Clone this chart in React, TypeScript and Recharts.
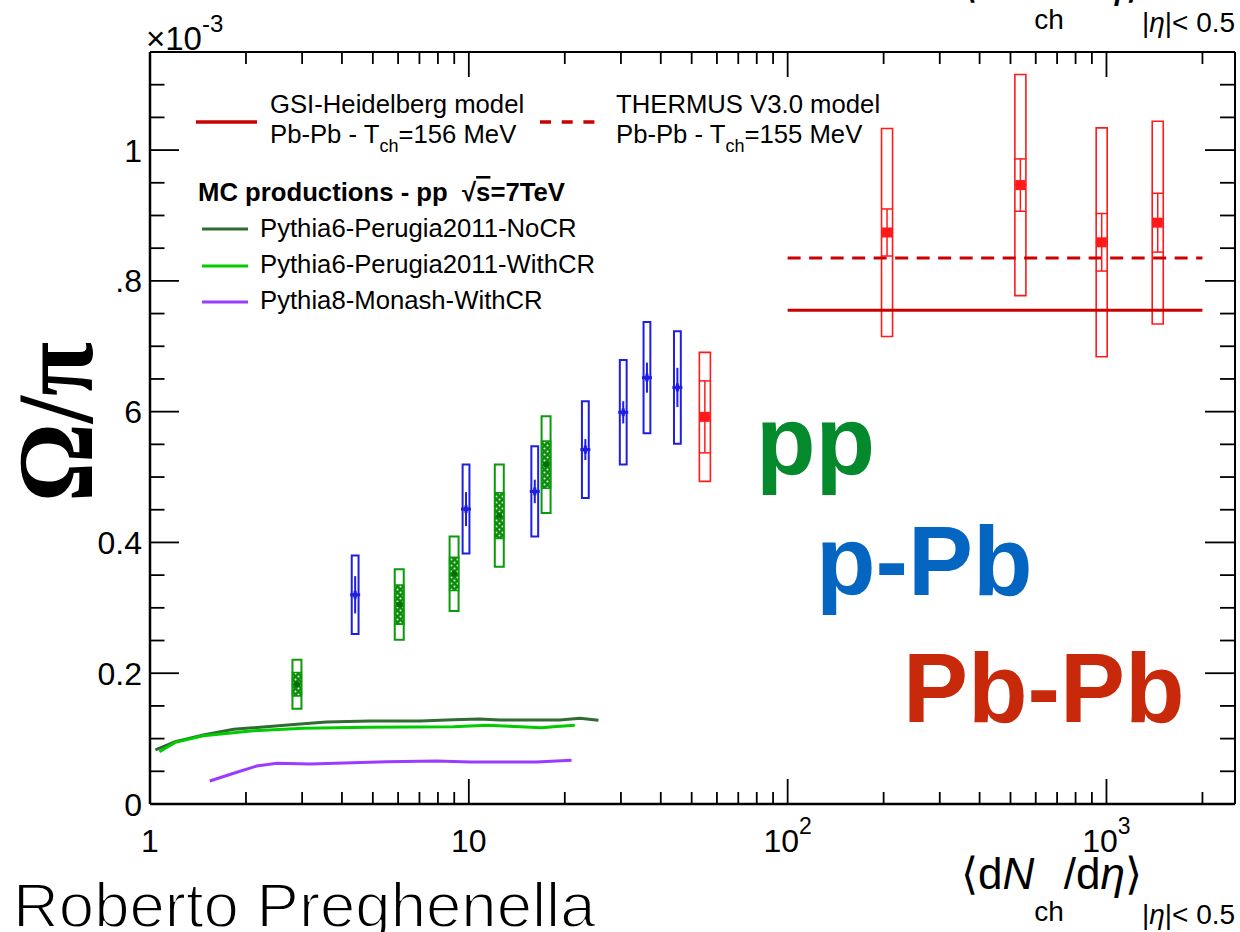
import React from 'react';
import { ComposedChart, XAxis, YAxis, Scatter, Line, ReferenceArea, ErrorBar } from 'recharts';

const W = 1240;
const H = 932;
const FONT = '"Liberation Sans", Arial, Helvetica, sans-serif';
const SERIF = '"Liberation Serif", "Times New Roman", serif';

// ---- axis ticks ----
const xMajorTicks = [1, 10, 100, 1000];
const xMajorBase = ['1', '10', '10', '10'];
const xMajorExp = ['', '', '2', '3'];
const xMinorMultipliers = [2, 3, 4, 5, 6, 7, 8, 9];
const X_MAX_TICK = 2000;
const xTicks: number[] = [];
xMajorTicks.forEach((d) => {
  xTicks.push(d);
  xMinorMultipliers.forEach((m) => {
    if (d * m <= X_MAX_TICK) xTicks.push(d * m);
  });
});

const yMajorTicks = [0, 0.2, 0.4, 0.6, 0.8, 1];
const yMajorLabels = ['0', '0.2', '0.4', '0.6', '0.8', '1'];
const yTicks: number[] = Array.from({ length: 24 }, (_, i) => Math.round(i * 5) / 100);

// ---- pp, sqrt(s) = 7 TeV ----
const ppMult = [2.89, 6.05, 8.99, 12.46, 17.47];
const ppRatio = [0.183, 0.305, 0.352, 0.441, 0.519];
const ppSysTotal = [0.0375, 0.054, 0.057, 0.078, 0.074];
const ppSysUncorr = [0.018, 0.03, 0.0255, 0.035, 0.036];

// ---- p-Pb ----
const pPbMult = [4.4, 9.8, 16.1, 23.2, 30.5, 36.2, 45.1];
const pPbRatio = [0.32, 0.451, 0.478, 0.542, 0.599, 0.652, 0.637];
const pPbStat = [0.0285, 0.026, 0.018, 0.016, 0.017, 0.023, 0.03];
const pPbSys = [0.06, 0.068, 0.069, 0.074, 0.08, 0.085, 0.086];

// ---- Pb-Pb ----
const PbPbMult = [55, 205, 537, 966, 1448];
const PbPbRatio = [0.592, 0.874, 0.9465, 0.859, 0.889];
const PbPbStat = [0.055, 0.036, 0.04, 0.044, 0.045];
const PbPbSys = [0.0986, 0.159, 0.169, 0.175, 0.155];

// ---- MC productions, pp 7 TeV ----
const noCRMult = [1.04, 1.2, 1.47, 1.83, 2.96, 3.58, 4.9, 7.03, 8.94, 10.8, 12.5, 19.3, 22.3, 25.5];
const noCRRatio = [0.0826, 0.0953, 0.1055, 0.1142, 0.1223, 0.1254, 0.127, 0.127, 0.1289, 0.13, 0.1284, 0.1284, 0.131, 0.128];
const withCRMult = [1.07, 1.2, 1.47, 2.11, 3.03, 4.9, 8.94, 11.4, 14.5, 16.9, 18.4, 21.5];
const withCRRatio = [0.08, 0.0943, 0.1045, 0.112, 0.1157, 0.1173, 0.1183, 0.1203, 0.1183, 0.1167, 0.118, 0.1203];
const monashMult = [1.54, 1.83, 2.16, 2.5, 3.18, 5.53, 7.93, 10.1, 16.3, 21.0];
const monashRatio = [0.0352, 0.047, 0.0581, 0.0622, 0.0612, 0.0647, 0.0657, 0.0642, 0.0642, 0.0668];

// ---- statistical hadronisation models (Pb-Pb) ----
const modelMult = [100, 2000];
const gsiRatio = 0.755;
const thermusRatio = 0.835;

// box half-widths, in decades of the log axis
const BOX_HW_RED = 0.0173;
const BOX_HW_BLUE = 0.0107;
const BOX_HW_GREEN = 0.0141;

const pts = (xs: number[], ys: number[], err?: number[]) =>
  xs.map((x, i) => ({ x, y: ys[i], err: err ? err[i] : 0 }));

const ppPts = pts(ppMult, ppRatio);
const pPbPts = pts(pPbMult, pPbRatio, pPbStat);
const PbPbPts = pts(PbPbMult, PbPbRatio, PbPbStat);
const noCR = pts(noCRMult, noCRRatio);
const withCR = pts(withCRMult, withCRRatio);
const monash = pts(monashMult, monashRatio);
const gsi = modelMult.map((x) => ({ x, y: gsiRatio }));
const thermus = modelMult.map((x) => ({ x, y: thermusRatio }));

const RED = '#ff1a1a';
const BLUE = '#1f1fe0';
const GREEN = '#0b9a0b';

const findIdx = (arr: number[], v: number) => arr.findIndex((t) => Math.abs(t - v) < 1e-9);

const BottomTick = (props: any) => {
  const { x, y, payload } = props;
  const i = findIdx(xMajorTicks, payload.value);
  const major = i >= 0;
  return (
    <g>
      <line x1={x} x2={x} y1={y} y2={y - (major ? 25 : 12)} stroke="#000" strokeWidth={1.8} />
      {major && (
        <text x={x} y={y + 48} textAnchor="middle" fontFamily={FONT} fontSize={32} fill="#000">
          {xMajorBase[i]}
          {xMajorExp[i] ? (
            <tspan dy={-18} fontSize={23}>
              {xMajorExp[i]}
            </tspan>
          ) : null}
        </text>
      )}
    </g>
  );
};

const TopTick = (props: any) => {
  const { x, y, payload } = props;
  const major = findIdx(xMajorTicks, payload.value) >= 0;
  return <line x1={x} x2={x} y1={y} y2={y + (major ? 25 : 12)} stroke="#000" strokeWidth={1.8} />;
};

const LeftTick = (props: any) => {
  const { x, y, payload } = props;
  const i = findIdx(yMajorTicks, payload.value);
  const major = i >= 0;
  return (
    <g>
      <line x1={x} x2={x + (major ? 29 : 14.5)} y1={y} y2={y} stroke="#000" strokeWidth={1.8} />
      {major && (
        <text x={x - 8} y={y + 11.5} textAnchor="end" fontFamily={FONT} fontSize={32} fill="#000">
          {yMajorLabels[i]}
        </text>
      )}
    </g>
  );
};

const RightTick = (props: any) => {
  const { x, y, payload } = props;
  const major = findIdx(yMajorTicks, payload.value) >= 0;
  return <line x1={x} x2={x - (major ? 30 : 15)} y1={y} y2={y} stroke="#000" strokeWidth={1.8} />;
};

const RedMarker = (p: any) => (
  <g>
    <line x1={p.cx - 6} x2={p.cx + 6} y1={p.cy} y2={p.cy} stroke={RED} strokeWidth={1.5} />
    <rect x={p.cx - 5} y={p.cy - 5} width={10} height={10} fill={RED} />
  </g>
);

const BlueMarker = (p: any) => (
  <g>
    <line x1={p.cx - 5} x2={p.cx + 5} y1={p.cy} y2={p.cy} stroke={BLUE} strokeWidth={3} />
    <line x1={p.cx} x2={p.cx} y1={p.cy - 4} y2={p.cy + 4} stroke={BLUE} strokeWidth={3} />
    <circle cx={p.cx} cy={p.cy} r={2.5} fill={BLUE} />
  </g>
);

const GreenMarker = (p: any) => <circle cx={p.cx} cy={p.cy} r={3} fill="#067006" />;

// <dN_ch/deta>_{|eta|<0.5}
const AxisTitle = ({ baseline }: { baseline: number }) => (
  <text x={961} y={baseline} fontFamily={FONT} fontSize={44} fill="#000">
    ⟨d<tspan fontStyle="italic">N</tspan>
    <tspan fontSize={28} dy={32}>
      ch
    </tspan>
    <tspan dy={-32}>/d</tspan>
    <tspan fontStyle="italic">η</tspan>⟩
    <tspan fontSize={28} dy={35}>
      |
    </tspan>
    <tspan fontSize={28} fontStyle="italic">
      η
    </tspan>
    <tspan fontSize={28}>|&lt; 0.5</tspan>
  </text>
);

const axisProps = { xAxisId: 'b', yAxisId: 'l' };
const LEG = 25.7;

export default function App() {
  return (
    <div style={{ position: 'absolute', left: 0, top: 0, width: W, height: H, background: '#fff', overflow: 'hidden' }}>
      <svg width={0} height={0} style={{ position: 'absolute' }}>
        <defs>
          <pattern id="ppHatch" width={6} height={6} patternUnits="userSpaceOnUse">
            <rect width={6} height={6} fill="#0a8c0a" />
            <circle cx={1.5} cy={1.5} r={1} fill="#e8f5e8" />
            <circle cx={4.5} cy={4.5} r={1} fill="#e8f5e8" />
          </pattern>
        </defs>
      </svg>

      <ComposedChart width={W} height={H} margin={{ top: 51, right: 4, bottom: 68, left: 90 }}>
        <XAxis
          xAxisId="b"
          dataKey="x"
          type="number"
          scale="log"
          domain={[1, 2530]}
          allowDataOverflow
          ticks={xTicks}
          interval={0}
          tickSize={0}
          tickMargin={0}
          tickLine={false}
          axisLine={{ stroke: '#000', strokeWidth: 2.5 }}
          tick={<BottomTick />}
          height={60}
          orientation="bottom"
        />
        <XAxis
          xAxisId="t"
          dataKey="x"
          type="number"
          scale="log"
          domain={[1, 2530]}
          allowDataOverflow
          ticks={xTicks}
          interval={0}
          tickSize={0}
          tickMargin={0}
          tickLine={false}
          axisLine={{ stroke: '#000', strokeWidth: 2 }}
          tick={<TopTick />}
          height={1}
          orientation="top"
        />
        <YAxis
          yAxisId="l"
          dataKey="y"
          type="number"
          domain={[0, 1.15]}
          allowDataOverflow
          ticks={yTicks}
          interval={0}
          tickSize={0}
          tickMargin={0}
          tickLine={false}
          axisLine={{ stroke: '#000', strokeWidth: 2.5 }}
          tick={<LeftTick />}
          width={60}
          orientation="left"
        />
        <YAxis
          yAxisId="r"
          dataKey="y"
          type="number"
          domain={[0, 1.15]}
          allowDataOverflow
          ticks={yTicks}
          interval={0}
          tickSize={0}
          tickMargin={0}
          tickLine={false}
          axisLine={{ stroke: '#000', strokeWidth: 2 }}
          tick={<RightTick />}
          width={1}
          orientation="right"
        />

        {/* systematic boxes */}
        {PbPbPts.map((d, i) => (
          <ReferenceArea
            key={`pbpb-box-${i}`}
            {...axisProps}
            x1={d.x / Math.pow(10, BOX_HW_RED)}
            x2={d.x * Math.pow(10, BOX_HW_RED)}
            y1={d.y - PbPbSys[i]}
            y2={d.y + PbPbSys[i]}
            fill="none"
            stroke={RED}
            strokeWidth={1.6}
            ifOverflow="visible"
          />
        ))}
        {pPbPts.map((d, i) => (
          <ReferenceArea
            key={`ppb-box-${i}`}
            {...axisProps}
            x1={d.x / Math.pow(10, BOX_HW_BLUE)}
            x2={d.x * Math.pow(10, BOX_HW_BLUE)}
            y1={d.y - pPbSys[i]}
            y2={d.y + pPbSys[i]}
            fill="none"
            stroke={BLUE}
            strokeWidth={2}
            ifOverflow="visible"
          />
        ))}
        {ppPts.map((d, i) => (
          <ReferenceArea
            key={`pp-box-${i}`}
            {...axisProps}
            x1={d.x / Math.pow(10, BOX_HW_GREEN)}
            x2={d.x * Math.pow(10, BOX_HW_GREEN)}
            y1={d.y - ppSysTotal[i]}
            y2={d.y + ppSysTotal[i]}
            fill="none"
            stroke={GREEN}
            strokeWidth={2}
            ifOverflow="visible"
          />
        ))}
        {ppPts.map((d, i) => (
          <ReferenceArea
            key={`pp-unc-${i}`}
            {...axisProps}
            x1={d.x / Math.pow(10, BOX_HW_GREEN)}
            x2={d.x * Math.pow(10, BOX_HW_GREEN)}
            y1={d.y - ppSysUncorr[i]}
            y2={d.y + ppSysUncorr[i]}
            fill="url(#ppHatch)"
            fillOpacity={1}
            stroke={GREEN}
            strokeWidth={1.5}
            ifOverflow="visible"
          />
        ))}

        {/* model predictions */}
        <Line {...axisProps} data={gsi} dataKey="y" type="linear" stroke="#cc0000" strokeWidth={3} dot={false} isAnimationActive={false} />
        <Line {...axisProps} data={thermus} dataKey="y" type="linear" stroke="#cc0000" strokeWidth={3} strokeDasharray="13 8.5" dot={false} isAnimationActive={false} />

        {/* MC curves */}
        <Line {...axisProps} data={noCR} dataKey="y" type="linear" stroke="#2f6b32" strokeWidth={3} dot={false} isAnimationActive={false} />
        <Line {...axisProps} data={withCR} dataKey="y" type="linear" stroke="#00cc00" strokeWidth={3} dot={false} isAnimationActive={false} />
        <Line {...axisProps} data={monash} dataKey="y" type="linear" stroke="#9a3cff" strokeWidth={3} dot={false} isAnimationActive={false} />

        {/* data points */}
        <Scatter {...axisProps} data={ppPts} dataKey="y" shape={GreenMarker} isAnimationActive={false} />
        <Scatter {...axisProps} data={pPbPts} dataKey="y" shape={BlueMarker} isAnimationActive={false}>
          <ErrorBar dataKey="err" direction="y" width={0} stroke={BLUE} strokeWidth={2} isAnimationActive={false} />
        </Scatter>
        <Scatter {...axisProps} data={PbPbPts} dataKey="y" shape={RedMarker} isAnimationActive={false}>
          <ErrorBar dataKey="err" direction="y" width={6} stroke={RED} strokeWidth={1.5} isAnimationActive={false} />
        </Scatter>
      </ComposedChart>

      <svg width={W} height={H} style={{ position: 'absolute', left: 0, top: 0, pointerEvents: 'none' }}>
        {/* y-axis multiplier */}
        <text x={146} y={50} fontFamily={FONT} fontSize={33} fill="#000">
          ×10
          <tspan dy={-18} fontSize={24}>
            -3
          </tspan>
        </text>

        {/* y-axis title, on a white backing */}
        <rect x={0} y={266} width={116} height={36} fill="#fff" />
        <rect x={0} y={300} width={122} height={228} fill="#fff" />
        <text
          transform="translate(92,422) rotate(-90)"
          textAnchor="middle"
          fontFamily={SERIF}
          fontWeight="bold"
          fontSize={108}
          textLength={160}
          lengthAdjust="spacingAndGlyphs"
          fill="#000"
        >
          Ω/π
        </text>

        {/* x-axis title, and its copy cut off at the top */}
        <AxisTitle baseline={889} />
        <AxisTitle baseline={-3} />

        {/* model legend */}
        <line x1={196} x2={257} y1={122} y2={122} stroke="#cc0000" strokeWidth={3.5} />
        <text x={270} y={113} fontFamily={FONT} fontSize={LEG} fill="#000">GSI-Heidelberg model</text>
        <text x={270} y={143} fontFamily={FONT} fontSize={LEG} fill="#000">
          Pb-Pb - T<tspan fontSize={18} dy={9}>ch</tspan>
          <tspan dy={-9}>=156 MeV</tspan>
        </text>
        <line x1={540} x2={595} y1={122} y2={122} stroke="#cc0000" strokeWidth={3.5} strokeDasharray="11 10.7" />
        <text x={616} y={113} fontFamily={FONT} fontSize={LEG} fill="#000">THERMUS V3.0 model</text>
        <text x={616} y={143} fontFamily={FONT} fontSize={LEG} fill="#000">
          Pb-Pb - T<tspan fontSize={18} dy={9}>ch</tspan>
          <tspan dy={-9}>=155 MeV</tspan>
        </text>

        {/* MC legend */}
        <text x={198} y={201} fontFamily={FONT} fontSize={LEG} fontWeight="bold" fill="#000">
          {'MC productions - pp\u00a0\u00a0√'}
          <tspan textDecoration="overline">s</tspan>
          {'=7TeV'}
        </text>
        <line x1={202} x2={248} y1={229} y2={229} stroke="#2f6b32" strokeWidth={3} />
        <text x={260} y={237} fontFamily={FONT} fontSize={LEG} fill="#000">Pythia6-Perugia2011-NoCR</text>
        <line x1={202} x2={248} y1={266} y2={266} stroke="#00cc00" strokeWidth={3} />
        <text x={260} y={273} fontFamily={FONT} fontSize={LEG} fill="#000">Pythia6-Perugia2011-WithCR</text>
        <line x1={202} x2={248} y1={302} y2={302} stroke="#9a3cff" strokeWidth={3} />
        <text x={260} y={309} fontFamily={FONT} fontSize={LEG} fill="#000">Pythia8-Monash-WithCR</text>

        {/* collision-system labels */}
        <text x={756} y={475} fontFamily={FONT} fontSize={97.5} fontWeight="bold" fill="#048a2d">pp</text>
        <text x={816} y={595} fontFamily={FONT} fontSize={97.5} fontWeight="bold" fill="#0566c1">p-Pb</text>
        <text x={903} y={722} fontFamily={FONT} fontSize={97.5} fontWeight="bold" fill="#c8290a">Pb-Pb</text>

        {/* author */}
        <text x={13} y={927} fontFamily={FONT} fontSize={63.5} fill="#000" stroke="#fff" strokeWidth={1.8}>
          Roberto Preghenella
        </text>
      </svg>
    </div>
  );
}
